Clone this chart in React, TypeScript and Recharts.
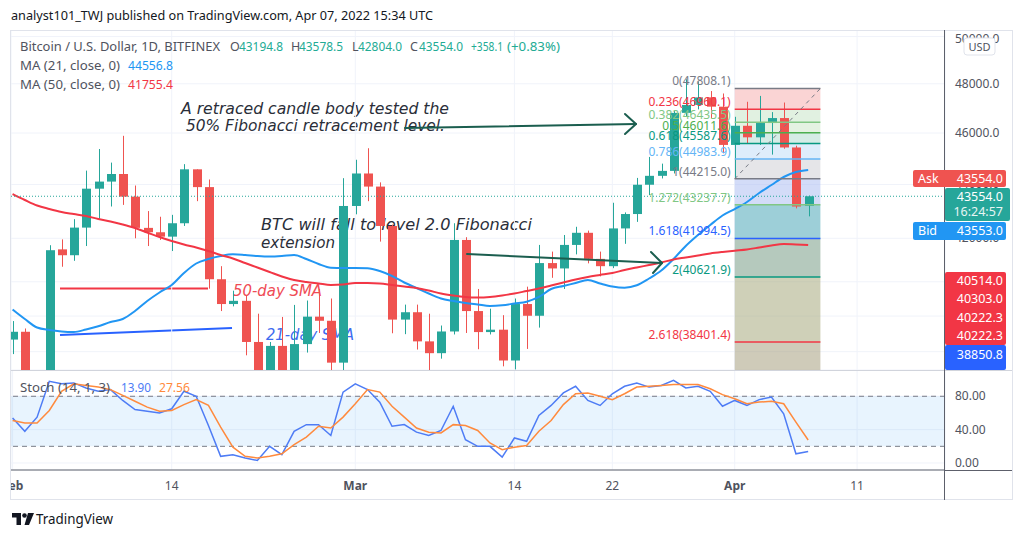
import React from "react";
import {
  ComposedChart,
  Bar,
  Line,
  XAxis,
  YAxis,
  CartesianGrid,
  ReferenceLine,
  ReferenceArea,
} from "recharts";

const UP = "#26a69a";
const DOWN = "#ef5350";
const FONT = "'Noto Sans', 'DejaVu Sans', sans-serif";
const ITALIC = "'DejaVu Sans', 'Noto Sans', sans-serif";

// daily BTC/USD candles, index 0 = Feb 1 2022 ... index 65 = Apr 7 2022
const opens = [
  38480, 38740, 36900, 37320, 41600, 41390, 42390, 43840, 44110, 44400,
  43540, 42380, 42220, 42060, 42550, 44580, 43900, 40540, 39680, 39790,
  38400, 37000, 38270, 37260, 38330, 39250, 39110, 37720, 43190, 44420,
  43920, 42450, 39150, 39400, 38420, 38030, 38750, 41940, 39440, 38730,
  38810, 37790, 39680, 39280, 41110, 40920, 41760, 42200, 41260, 41000,
  42360, 42890, 43990, 44330, 44520, 46810, 47130, 47440, 47060, 45530,
  46290, 45830, 46400, 46600, 45430, 43194.8,
];
const highs = [
  39100, 38850, 37400, 41750, 41960, 42700, 44530, 45370, 44840, 45890,
  43960, 43000, 42790, 42860, 44780, 44580, 44190, 41000, 40140, 39960,
  39350, 38400, 39240, 39650, 39800, 40200, 39870, 44240, 44950, 45400,
  44080, 42500, 39660, 39660, 39350, 38950, 42550, 42040, 40200, 39520,
  39300, 39870, 40280, 41760, 41520, 42120, 42420, 42280, 41520, 43310,
  42950, 44250, 45060, 44800, 46900, 48190, 48100, 47700, 47600, 46650,
  47260, 47500, 46840, 47230, 45500, 43578.5,
];
const lows = [
  38000, 36600, 36250, 37050, 40980, 41190, 41720, 42710, 43170, 43230,
  42000, 41720, 41940, 41540, 42450, 43370, 40210, 39440, 39600, 37960,
  36800, 36350, 37050, 34330, 38050, 38700, 37170, 37480, 42880, 43370,
  41880, 38690, 38660, 38150, 37170, 37850, 38650, 38700, 38160, 38650,
  37600, 37500, 38170, 38880, 40590, 40200, 41420, 41100, 40640, 40930,
  41800, 42600, 43600, 44230, 44420, 46650, 46950, 46600, 45200, 44240,
  45570, 45530, 45150, 45380, 43100, 42804.0,
];
const closes = [
  38740, 36900, 37320, 41570, 41390, 42390, 43840, 44110, 44400, 43540,
  42380, 42220, 42060, 42550, 44580, 43900, 40540, 39680, 39790, 38400,
  37000, 38270, 37260, 38330, 39250, 39110, 37720, 43190, 44420, 43920,
  42450, 39150, 39400, 38420, 38030, 38750, 41940, 39440, 38730, 38810,
  37790, 39680, 39280, 41110, 40920, 41760, 42200, 41260, 41000, 42360,
  42890, 43990, 44330, 44520, 46810, 47130, 47440, 47060, 45530, 46290,
  45830, 46400, 46600, 45430, 43170, 43554.0,
];
const ma21 = [
  39493, 39170, 38884, 38800, 38750, 38733, 38816, 38924, 39069, 39170,
  39442, 39785, 40078, 40339, 40759, 41095, 41255, 41362, 41423, 41398,
  41362, 41344, 41362, 41398, 41255, 41077, 40946, 40936, 40936, 40929,
  40829, 40654, 40426, 40234, 40043, 39871, 39785, 39716, 39664, 39613,
  39637, 39699, 39761, 39923, 40200, 40303, 40408, 40513, 40391, 40286,
  40244, 40328, 40566, 40847, 41255, 41722, 42120, 42486, 42836, 43077,
  43339, 43677, 43980, 44285, 44477, 44556.8,
];
const ma50 = [
  43639, 43414, 43208, 43077, 42966, 42891, 42817, 42706, 42614, 42504,
  42375, 42211, 42047, 41902, 41775, 41667, 41541, 41398, 41273, 41113,
  40953, 40794, 40636, 40513, 40443, 40391, 40339, 40356, 40408, 40408,
  40391, 40339, 40286, 40234, 40147, 40043, 39974, 39923, 39905, 39923,
  39974, 40043, 40130, 40217, 40321, 40426, 40531, 40618, 40689, 40759,
  40865, 40953, 41042, 41131, 41238, 41309, 41380, 41452, 41506, 41552,
  41596, 41667, 41740, 41793, 41775, 41755.4,
];
const stochK = [
  54, 38, 55, 98, 95, 96, 90, 86, 88, 75,
  64, 62, 60, 65, 86, 80, 45, 8, 10, 6,
  3, 20, 10, 38, 46, 46, 33, 85, 95, 88,
  73, 44, 46, 37, 33, 39, 68, 28, 20, 20,
  7, 30, 26, 57, 69, 84, 92, 75, 69, 83,
  92, 96, 91, 93, 99, 90, 92, 86, 68, 75,
  69, 76, 79, 59, 11, 13.9,
];
const stochD = [
  51, 48, 48, 63, 86, 95, 93, 91, 88, 81,
  74, 67, 62, 63, 70, 76, 69, 43, 19, 8,
  6, 8, 11, 22, 31, 44, 42, 55, 71, 88,
  85, 68, 55, 42, 37, 36, 46, 45, 39, 24,
  16, 19, 21, 38, 51, 70, 83, 84, 80, 76,
  83, 91, 92, 93, 94, 94, 94, 89, 82, 77,
  71, 73, 74, 71, 49, 27.56,
];

const timeTicks = [0, 13, 28, 41, 49, 59, 69];
const timeLabels = ["Feb", "14", "Mar", "14", "22", "Apr", "11"];
const priceTicks = [38080, 39270, 40450, 42000, 44000, 46000, 48000, 50000];
const stochTicks = [0, 40, 80];

// fibonacci tool drawn from Apr 1 to Apr 8
const fibRatios = ["0", "0.236", "0.382", "0.5", "0.618", "0.786", "1", "1.272", "1.618", "2", "2.618"];
const fibPrices = [47808.1, 46960.1, 46435.5, 46011.6, 45587.6, 44983.9, 44215.0, 43237.7, 41994.5, 40621.9, 38401.4];
const fibLineColors = ["#787b86", "#f23645", "#81c784", "#4caf50", "#089981", "#64b5f6", "#787b86", "#81c784", "#2962ff", "#089981", "#f23645"];
const fibBandColors = ["#f5a9a9", "#c3e3c3", "#c9e5c5", "#abd9cd", "#bddbf7", "#cbcbd1", "#a7b9f1", "#3b9fb1", "#6b937b", "#9fa171", "#9f9773"];

const X_DOMAIN: [number, number] = [-0.13, 76.18];

const rows = closes.map((c, i) => ({
  i,
  open: opens[i],
  high: highs[i],
  low: lows[i],
  close: c,
  ma21: ma21[i],
  ma50: ma50[i],
  k: stochK[i],
  d: stochD[i],
}));

const Candle = (props: any) => {
  const { x, y, width, height, payload } = props;
  if (!payload || !isFinite(y) || !isFinite(height)) return null;
  const { open, close, high, low } = payload;
  const lh = Math.log(high);
  const ll = Math.log(low);
  // log price axis: pixel position is linear in ln(price)
  const py = (p: number) => y + ((lh - Math.log(p)) / (lh - ll)) * height;
  const color = close >= open ? UP : DOWN;
  const cx = Math.round(x + width / 2) + 0.5;
  const top = py(Math.max(open, close));
  const bot = py(Math.min(open, close));
  return (
    <g>
      <line x1={cx} x2={cx} y1={y} y2={y + height} stroke={color} strokeWidth={1} />
      <rect x={cx - 4.5} y={top} width={9} height={Math.max(1, bot - top)} fill={color} />
    </g>
  );
};

// the lower price labels are hidden behind the coloured price markers in the original
const PriceTick = (props: any) => {
  const v = Number(props.payload.value);
  if (v < 42000) return null;
  return (
    <text x={props.x} y={props.y} dy={4} fontSize={12} fill="#50535e" fontFamily={FONT}>
      {v.toFixed(1)}
    </text>
  );
};

const StochTick = (props: any) => (
  <text x={props.x} y={props.y} dy={4} fontSize={12} fill="#50535e" fontFamily={FONT}>
    {Number(props.payload.value).toFixed(2)}
  </text>
);

const TimeTick = (props: any) => {
  const label = timeLabels[timeTicks.indexOf(props.payload.value)];
  const month = isNaN(Number(label));
  return (
    <text x={props.x} y={props.y} dy={20} textAnchor="middle" fontSize={12}
      fontWeight={month ? 700 : 400} fill="#50535e" fontFamily={FONT}>
      {label}
    </text>
  );
};

const FibLabel = (props: any) => {
  const vb = props.viewBox || {};
  return (
    <text x={vb.x - 4} y={vb.y - 3} textAnchor="end" fontSize={12} fill={props.color} fontFamily={FONT}>
      {props.text}
    </text>
  );
};

const T = (p: any) => (
  <text x={p.x} y={p.y} fontSize={p.size || 12.5} fill={p.fill || "#50535e"}
    fontFamily={p.family || FONT} fontStyle={p.italic ? "italic" : undefined}
    fontWeight={p.weight} textAnchor={p.anchor}
    textLength={p.len} lengthAdjust={p.len ? "spacingAndGlyphs" : undefined}>
    {p.children}
  </text>
);

export default function App() {
  return (
    <div style={{ position: "relative", width: 1024, height: 538, margin: -8, background: "#fff", overflow: "hidden" }}>
      {/* drawings that sit under the candles */}
      <svg width={1024} height={538} style={{ position: "absolute", left: 0, top: 0 }}>
        <T x={181} y={114} len={268} size={16} fill="#2a2e39" italic family={ITALIC}>A retraced candle body tested the</T>
        <T x={186} y={131} len={259} size={16} fill="#2a2e39" italic family={ITALIC}>50% Fibonacci retracement level.</T>
        <T x={261} y={230} len={271} size={16} fill="#2a2e39" italic family={ITALIC}>BTC will fall to level 2.0 Fibonacci</T>
        <T x={261} y={248} len={74} size={16} fill="#2a2e39" italic family={ITALIC}>extension</T>
        <T x={233} y={296} len={89} size={16} fill="#ef4b55" italic family={ITALIC}>50-day SMA</T>
        <T x={266} y={340} len={88} size={16} fill="#3d6bf0" italic family={ITALIC}>21-day SMA</T>
        <line x1={60} y1={288.5} x2={208} y2={288.5} stroke="#f23645" strokeWidth={2} />
        <line x1={60} y1={335} x2={232} y2={328} stroke="#2962ff" strokeWidth={2} />
      </svg>

      <div style={{ position: "absolute", left: 11, top: 30 }}>
        <ComposedChart width={1002} height={340} data={rows} margin={{ top: 0, right: 0, bottom: 0, left: 0 }}>
          <CartesianGrid stroke="#f0f3fa" />
          <XAxis dataKey="i" type="number" domain={X_DOMAIN} ticks={timeTicks} allowDataOverflow hide />
          <YAxis orientation="right" width={68} scale="log" domain={[37481, 50285]} allowDataOverflow
            ticks={priceTicks} axisLine={false} tickLine={false} tickSize={0} tickMargin={10} tick={<PriceTick />} />
          <Bar dataKey={(r: any) => [r.low, r.high]} shape={<Candle />} barSize={9} isAnimationActive={false} />
          <Line dataKey="ma21" stroke="#2196f3" strokeWidth={2} dot={false} type="monotone" isAnimationActive={false} />
          <Line dataKey="ma50" stroke="#f23645" strokeWidth={2} dot={false} type="monotone" isAnimationActive={false} />
          {fibPrices.map((p, j) => (
            <ReferenceArea key={"band" + j} x1={59} x2={66} y1={p}
              y2={j < fibPrices.length - 1 ? fibPrices[j + 1] : 36000}
              fill={fibBandColors[j]} fillOpacity={0.5} stroke="none" ifOverflow="hidden" />
          ))}
          <ReferenceLine y={43554} stroke={UP} strokeDasharray="1 2" />
          {fibPrices.map((p, j) => (
            <ReferenceLine key={"fib" + j} segment={[{ x: 59, y: p }, { x: 66, y: p }]}
              stroke={fibLineColors[j]} strokeWidth={1.5}
              label={<FibLabel color={fibLineColors[j]} text={`${fibRatios[j]}(${p.toFixed(1)})`} />} />
          ))}
          <ReferenceLine segment={[{ x: 59, y: fibPrices[6] }, { x: 66, y: fibPrices[0] }]}
            stroke="#787b86" strokeDasharray="4 4" />
        </ComposedChart>
      </div>

      <div style={{ position: "absolute", left: 11, top: 370 }}>
        <ComposedChart width={1002} height={130} data={rows} margin={{ top: 0, right: 0, bottom: 0, left: 0 }}>
          <CartesianGrid stroke="#f0f3fa" />
          <XAxis dataKey="i" type="number" domain={X_DOMAIN} ticks={timeTicks} allowDataOverflow height={30}
            interval={0} tickLine={false} tickSize={0} tickMargin={0} axisLine={{ stroke: "#5d606b" }} tick={<TimeTick />} />
          <YAxis orientation="right" width={68} domain={[-8.4, 111.5]} allowDataOverflow ticks={stochTicks}
            axisLine={false} tickLine={false} tickSize={0} tickMargin={10} tick={<StochTick />} />
          <ReferenceArea y1={20} y2={80} fill="#2196f3" fillOpacity={0.1} stroke="none" />
          <ReferenceLine y={80} stroke="#787b86" strokeDasharray="5 4" />
          <ReferenceLine y={20} stroke="#787b86" strokeDasharray="5 4" />
          <Line dataKey="k" stroke="#4e7cf5" strokeWidth={1.5} dot={false} type="linear" isAnimationActive={false} />
          <Line dataKey="d" stroke="#ff8a3d" strokeWidth={1.5} dot={false} type="linear" isAnimationActive={false} />
        </ComposedChart>
      </div>

      {/* labels, arrows and frame on top */}
      <svg width={1024} height={538} style={{ position: "absolute", left: 0, top: 0 }}>
        <rect x={0} y={471} width={7} height={28} fill="#fff" />
        <rect x={10.5} y={30.5} width={1002} height={469} fill="none" stroke="#e0e3eb" />
        <line x1={11} y1={370.5} x2={1012} y2={370.5} stroke="#d1d4dc" />
        <line x1={945} y1={470.5} x2={1012} y2={470.5} stroke="#5d606b" />
        <line x1={944.5} y1={30} x2={944.5} y2={500} stroke="#5d606b" />

        <T x={11} y={20} len={422} size={13} fill="#131722">analyst101_TWJ published on TradingView.com, Apr 07, 2022 15:34 UTC</T>

        <T x={20} y={51} len={200}>Bitcoin / U.S. Dollar, 1D, BITFINEX</T>
        <T x={230} y={51}>O</T>
        <T x={239} y={51} len={44} fill="#22ab94">43194.8</T>
        <T x={291} y={51}>H</T>
        <T x={299} y={51} len={44} fill="#22ab94">43578.5</T>
        <T x={352} y={51}>L</T>
        <T x={358} y={51} len={44} fill="#22ab94">42804.0</T>
        <T x={410} y={51}>C</T>
        <T x={419} y={51} len={44} fill="#22ab94">43554.0</T>
        <T x={471} y={51} len={32} fill="#22ab94">+358.1</T>
        <T x={507} y={51} len={53} fill="#22ab94">(+0.83%)</T>
        <T x={20} y={70} len={100}>MA (21, close, 0)</T>
        <T x={128} y={70} len={45} fill="#2196f3">44556.8</T>
        <T x={20} y={89} len={100}>MA (50, close, 0)</T>
        <T x={128} y={89} len={45} fill="#f23645">41755.4</T>

        <T x={20} y={392} len={90}>Stoch (14, 1, 3)</T>
        <T x={121} y={392} len={30} fill="#4e7cf5">13.90</T>
        <T x={159} y={392} len={31} fill="#ff8a3d">27.56</T>

        <g stroke="#1b5e4f" strokeWidth={2} fill="none" strokeLinecap="round" strokeLinejoin="round">
          <line x1={405} y1={128} x2={636} y2={124} />
          <polyline points="625,114 636,124 625,134" />
          <line x1={467} y1={254} x2={662} y2={263} />
          <polyline points="651,252 662,263 653,273" />
        </g>

        <rect x={964} y={38} width={31} height={17} rx={3} fill="#fff" stroke="#e0e3eb" />
        <T x={979.5} y={51} size={11} anchor="middle" fill="#50535e">USD</T>

        <rect x={913} y={170} width={93} height={17} rx={2} fill="#ef5350" />
        <T x={918} y={183} fill="#fff">Ask</T>
        <T x={1003} y={183} fill="#fff" anchor="end">43554.0</T>
        <rect x={945} y={188} width={65} height={33} rx={2} fill="#26a69a" />
        <T x={1003} y={201} fill="#fff" anchor="end">43554.0</T>
        <T x={1003} y={216} fill="#e6f5f3" anchor="end">16:24:57</T>
        <rect x={913} y={222} width={93} height={18} rx={2} fill="#2196f3" />
        <T x={918} y={235} fill="#fff">Bid</T>
        <T x={1003} y={235} fill="#fff" anchor="end">43553.0</T>

        <rect x={945} y={272} width={61} height={73} rx={2} fill="#f23645" />
        <T x={1003} y={285} fill="#fff" anchor="end">40514.0</T>
        <T x={1003} y={303} fill="#fff" anchor="end">40303.0</T>
        <T x={1003} y={322} fill="#fff" anchor="end">40222.3</T>
        <T x={1003} y={340} fill="#fff" anchor="end">40222.3</T>
        <rect x={945} y={345} width={61} height={25} rx={2} fill="#2962ff" />
        <T x={1003} y={359} fill="#fff" anchor="end">38850.8</T>

        <g fill="#131722">
          <path d="M12 513 h9 v12 h-4.5 v-7.5 h-4.5 z" />
          <circle cx={24.5} cy={515.5} r={2.3} />
          <path d="M28 513 h6 l-5 12 h-4.5 z" />
        </g>
        <T x={36} y={524} len={77} size={14.5} fill="#131722">TradingView</T>
      </svg>
    </div>
  );
}
